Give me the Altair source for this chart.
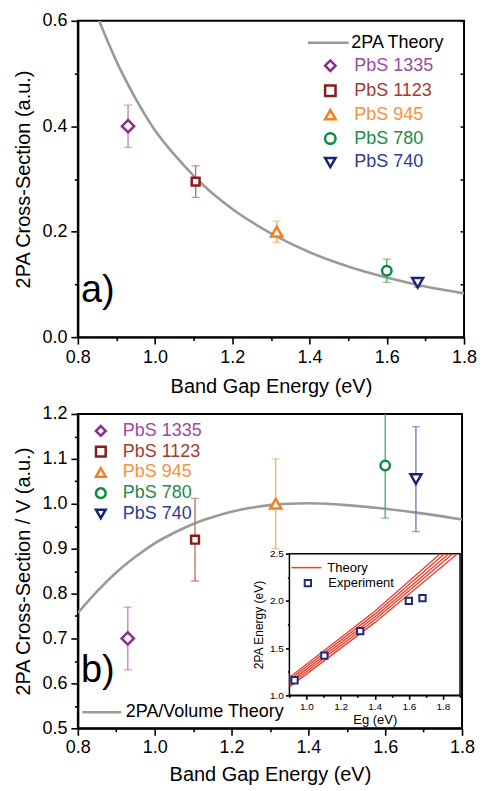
import altair as alt
import pandas as pd

FONT = "Liberation Sans"

# ---------------- data ----------------
samples = ["PbS 1335", "PbS 1123", "PbS 945", "PbS 780", "PbS 740"]
shapes = ["diamond", "square", "triangle-up", "circle", "triangle-down"]
marker_sizes = [150, 62, 125, 90, 120]
marker_colors = ["#8E2C8E", "#8B1C1C", "#F57E20", "#0F8A45", "#1B2376"]
label_colors = ["#9B4A9E", "#A33A30", "#F5923E", "#1E8A4C", "#2E3A92"]
error_colors = ["#C27BC2", "#C0685E", "#F8AE6A", "#4FAA6E", "#6A74B4"]

band_gap = [0.93, 1.105, 1.315, 1.60, 1.68]

# panel a
xs_a = [0.40, 0.295, 0.20, 0.126, 0.103]
xs_a_err = [0.04, 0.03, 0.02, 0.022, 0.008]
theory_a_eg = [0.855, 0.90, 0.95, 1.00, 1.05, 1.10, 1.15, 1.20, 1.30, 1.40, 1.50, 1.60, 1.70, 1.80]
theory_a_val = [0.600, 0.523, 0.452, 0.392, 0.346, 0.306, 0.272, 0.243, 0.197, 0.161, 0.134, 0.113, 0.096, 0.083]

# panel b
xs_b = [0.70, 0.92, 1.00, 1.085, 1.055]
xs_b_err = [0.07, 0.092, 0.10, 0.117, 0.117]
theory_b_eg = [0.80, 0.85, 0.90, 0.95, 1.00, 1.05, 1.10, 1.15, 1.20, 1.25, 1.30, 1.35, 1.40, 1.45, 1.50, 1.60, 1.70, 1.80]
theory_b_val = [0.757, 0.805, 0.847, 0.882, 0.912, 0.935, 0.955, 0.970, 0.982, 0.991, 0.997, 1.000, 1.001, 1.000, 0.997, 0.989, 0.978, 0.965]

# inset
inset_exp_eg = [0.93, 1.105, 1.315, 1.60, 1.68]
inset_exp_e2pa = [1.16, 1.42, 1.68, 2.00, 2.03]
inset_line_ids = ["t1", "t2", "t3", "t4", "t5"]
inset_line_eg = [[0.9, 1.4, 1.784], [0.9, 1.4, 1.809], [0.9, 1.4, 1.834], [0.9, 1.4, 1.857], [0.9, 1.4, 1.885]]
inset_line_e2pa = [[1.19, 1.89, 2.5], [1.165, 1.86, 2.5], [1.14, 1.83, 2.5], [1.115, 1.80, 2.5], [1.09, 1.77, 2.5]]

# axes ticks
ticks_x = [0.8, 0.9, 1.0, 1.1, 1.2, 1.3, 1.4, 1.5, 1.6, 1.7, 1.8]
ticks_y_a = [0.0, 0.1, 0.2, 0.3, 0.4, 0.5, 0.6]
ticks_y_b = [0.5, 0.55, 0.6, 0.65, 0.7, 0.75, 0.8, 0.85, 0.9, 0.95, 1.0, 1.05, 1.1, 1.15, 1.2]
ticks_inset_x = [0.9, 1.0, 1.1, 1.2, 1.3, 1.4, 1.5, 1.6, 1.7, 1.8, 1.9]
ticks_inset_y = [1.0, 1.25, 1.5, 1.75, 2.0, 2.25, 2.5]

x_domain = [0.8, 1.8]
y_domain_a = [0.0, 0.6]
y_domain_b = [0.5, 1.2]
inset_x_domain = [0.9, 1.9]
inset_y_domain = [1.0, 2.5]

GRAY = "#9A9A9A"
RED = "#EE3B2B"
NAVY = "#1F2A7A"

W_A, H_A = 387, 317
W_B, H_B = 385, 315


def make_axis(title, values, major_test, fmt, orient, size=18, tsize=20,
              big=7, small=3.5, **kw):
    return alt.Axis(
        title=title, values=values, orient=orient,
        labelExpr=f"({major_test}) ? format(datum.value, '{fmt}') : ''",
        tickSize={"condition": {"test": f"!({major_test})", "value": small}, "value": big},
        grid=False, domainColor="black", domainWidth=2, tickColor="black", tickWidth=1.6,
        labelFont=FONT, labelFontSize=size, titleFont=FONT, titleFontSize=tsize,
        titleFontWeight="normal", labelColor="black", titleColor="black",
        labelFlush=False, labelOverlap=False, **kw)


sample_list = "[" + ",".join(f"'{s}'" for s in samples) + "]"
color_expr = "[" + ",".join(f"'{c}'" for c in label_colors) + f"][indexof({sample_list}, datum.label)]"


def sample_legend(x, y, offset, rowpad, sym=110):
    return alt.Legend(orient="none", legendX=x, legendY=y, title=None, padding=0,
                      labelFont=FONT, labelFontSize=18, labelColor=alt.ExprRef(expr=color_expr),
                      symbolSize=sym, symbolStrokeWidth=2.5, symbolFillColor="white",
                      labelOffset=offset, rowPadding=rowpad)


def line_legend(x, y, length, offset, fsize=18, width=2.5):
    return alt.Legend(orient="none", legendX=x, legendY=y, title=None, padding=0,
                      labelFont=FONT, labelFontSize=fsize, labelColor="black",
                      symbolSize=length * length, symbolStrokeWidth=width, symbolType="stroke",
                      labelOffset=offset)


def panel(xs, errs, theory_eg, theory_val, theory_name, ydom, yticks, ymajor, yfmt, ytitle,
          W, H, leg_pts, leg_line, label_txt, label_pos, x_lp, x_tp, mirror=False):
    df = pd.DataFrame({"sample": samples, "eg": band_gap, "val": xs,
                       "lo": [v - e for v, e in zip(xs, errs)],
                       "hi": [v + e for v, e in zip(xs, errs)],
                       "msize": marker_sizes})
    dft = pd.DataFrame({"eg": theory_eg, "val": theory_val, "name": theory_name})
    xsc = alt.Scale(domain=x_domain, nice=False, zero=False)
    ysc = alt.Scale(domain=ydom, nice=False, zero=False)
    xax = make_axis("Band Gap Energy (eV)", ticks_x, "round(datum.value*10) % 2 == 0", ".1f",
                    "bottom", labelPadding=x_lp, titlePadding=x_tp)
    yax = make_axis(ytitle, yticks, ymajor, yfmt, "left", labelPadding=4, titlePadding=8)
    X = alt.X("eg:Q", scale=xsc, axis=xax)

    theory = alt.Chart(dft).mark_line(strokeWidth=2.6, interpolate="monotone", clip=True).encode(
        x=X, y=alt.Y("val:Q", scale=ysc, axis=yax),
        color=alt.Color("name:N", scale=alt.Scale(domain=[theory_name], range=[GRAY]), legend=leg_line))
    errcol = alt.Color("sample:N", scale=alt.Scale(domain=samples, range=error_colors), legend=None)
    err = alt.Chart(df).mark_rule(strokeWidth=1.3, clip=True).encode(
        x=X, y=alt.Y("lo:Q", scale=ysc, axis=yax), y2="hi:Q", color=errcol)
    caps = alt.Chart(df).transform_fold(["lo", "hi"], as_=["end", "cap"]).mark_tick(
        orient="horizontal", size=8, thickness=1.3, clip=True).encode(
        x=X, y=alt.Y("cap:Q", scale=ysc, axis=yax), color=errcol)
    pts = alt.Chart(df).mark_point(filled=False, fill="white", fillOpacity=1, strokeWidth=2.5,
                                   opacity=1).encode(
        x=X, y=alt.Y("val:Q", scale=ysc, axis=yax),
        color=alt.Color("sample:N", scale=alt.Scale(domain=samples, range=marker_colors), legend=leg_pts),
        shape=alt.Shape("sample:N", scale=alt.Scale(domain=samples, range=shapes), legend=leg_pts),
        size=alt.Size("msize:Q", scale=None, legend=None))
    lab = alt.Chart(df).mark_text(text=label_txt, font=FONT, fontSize=38, align="left",
                                   baseline="alphabetic", color="black").encode(
        x=alt.X(datum=label_pos[0], scale=xsc, axis=xax),
        y=alt.Y(datum=label_pos[1], scale=ysc, axis=yax)).transform_filter("datum.sample == 'PbS 1335'")
    main = alt.layer(theory, err, caps, pts, lab).resolve_scale(
        color="independent", shape="independent")
    if mirror:
        rax = alt.Axis(orient="right", values=yticks, labels=False, domain=False, ticks=True,
                       tickSize=4, tickColor="black", tickWidth=1.5, offset=-4, title=None,
                       grid=False)
        mir = alt.Chart(dft).mark_line(opacity=0).encode(
            x=X, y=alt.Y("val:Q", scale=ysc, axis=rax))
        main = alt.layer(main, mir).resolve_scale(
            y="independent", color="independent", shape="independent")
    return main.properties(width=W, height=H)


top = panel(xs_a, xs_a_err, theory_a_eg, theory_a_val, "2PA Theory", y_domain_a, ticks_y_a,
            "round(datum.value*10) % 2 == 0", ".1f", "2PA Cross-Section (a.u.)", W_A, H_A,
            sample_legend(244, 36, 15, 3.0), line_legend(229, 0, 41, 1), "a)", (0.808, 0.066),
            4, 10, mirror=True)

main_b = panel(xs_b, xs_b_err, theory_b_eg, theory_b_val, "2PA/Volume Theory", y_domain_b, ticks_y_b,
               "round(datum.value*100) % 10 == 0", ".1f", "2PA Cross-Section / V (a.u.)", W_B, H_B,
               sample_legend(14, 8, 13, 0.8, sym=95), line_legend(3, 278, 39, 3), "b)", (0.808, 0.603),
               3, 8)

# ---------------- inset ----------------
INSET_L, INSET_R = W_B - 173, W_B - 2
ix = alt.Scale(domain=inset_x_domain, range=[INSET_L, INSET_R], nice=False, zero=False)
iy = alt.Scale(domain=inset_y_domain, range=[282, 140], nice=False, zero=False)
ixax = make_axis("Eg (eV)", ticks_inset_x, "round(datum.value*10) % 2 == 0", ".1f", "bottom",
                 size=10, tsize=13, big=4, small=2, offset=-33, labelPadding=2, titlePadding=2)
iyax = make_axis("2PA Energy (eV)", ticks_inset_y, "round(datum.value*100) % 50 == 0", ".1f", "left",
                 size=10, tsize=12, big=4, small=2, offset=-INSET_L, labelPadding=2, titlePadding=4)
ixax_d = ixax.to_dict()
ixax_d["domainWidth"] = 1.5
iyax_d = iyax.to_dict()
iyax_d["domainWidth"] = 1.5

frame_df = pd.DataFrame({"x0": [inset_x_domain[0]], "x1": [inset_x_domain[1]],
                         "y0": [inset_y_domain[0]], "y1": [inset_y_domain[1]]})
frame = alt.Chart(frame_df).mark_rect(fill="white", stroke="black", strokeWidth=1.5).encode(
    x=alt.X("x0:Q", scale=ix, axis=alt.Axis(**ixax_d)), x2="x1:Q",
    y=alt.Y("y0:Q", scale=iy, axis=alt.Axis(**iyax_d)), y2="y1:Q")

rows = []
for lid, egs, es in zip(inset_line_ids, inset_line_eg, inset_line_e2pa):
    for a, b in zip(egs, es):
        rows.append({"line": lid, "x0": a, "y0": b, "name": "Theory"})
lines_df = pd.DataFrame(rows)
ilines = alt.Chart(lines_df).mark_line(strokeWidth=1.3).encode(
    x=alt.X("x0:Q", scale=ix, axis=alt.Axis(**ixax_d)),
    y=alt.Y("y0:Q", scale=iy, axis=alt.Axis(**iyax_d)),
    detail="line:N",
    color=alt.Color("name:N", scale=alt.Scale(domain=["Theory"], range=[RED]),
                    legend=line_legend(INSET_L + 1, 138, 30, 5, fsize=13, width=1.5)))

exp_df = pd.DataFrame({"x0": inset_exp_eg, "y0": inset_exp_e2pa, "name": "Experiment"})
ipts = alt.Chart(exp_df).mark_point(shape="square", filled=False, fill="white", fillOpacity=1,
                                    strokeWidth=2, size=40, opacity=1).encode(
    x=alt.X("x0:Q", scale=ix, axis=alt.Axis(**ixax_d)),
    y=alt.Y("y0:Q", scale=iy, axis=alt.Axis(**iyax_d)),
    color=alt.Color("name:N", scale=alt.Scale(domain=["Experiment"], range=[NAVY]),
                    legend=alt.Legend(orient="none", legendX=INSET_L + 12, legendY=163, title=None,
                                      padding=0, labelFont=FONT, labelFontSize=13, labelColor="black",
                                      symbolSize=40, symbolStrokeWidth=2, symbolType="square",
                                      labelOffset=14)))

inset = alt.layer(frame, ilines, ipts).resolve_scale(color="independent")

bottom = alt.layer(main_b, inset).resolve_scale(
    x="independent", y="independent", color="independent", shape="independent").properties(
    width=W_B, height=H_B)

chart = alt.vconcat(top, bottom, spacing=7).resolve_scale(
    color="independent", shape="independent").resolve_legend(
    color="independent", shape="independent").configure_view(
    stroke="black", strokeWidth=2).properties(
    padding={"left": 4, "top": 2, "right": 0, "bottom": 0}, background="white")

chart.save("out.html", embed_options={"renderer": "svg", "actions": False})
